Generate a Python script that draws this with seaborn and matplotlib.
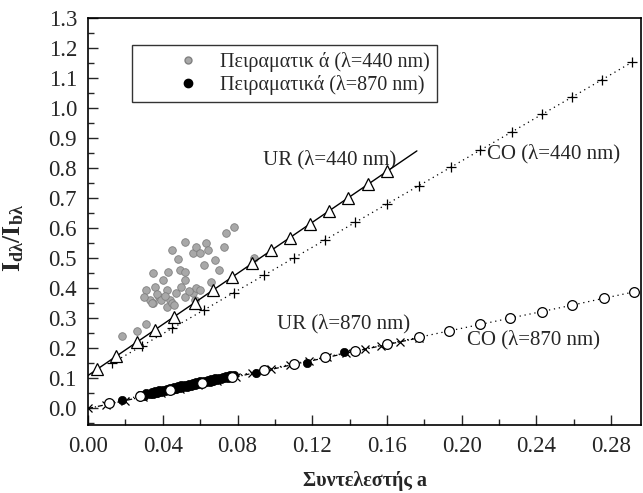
import matplotlib
matplotlib.use("Agg")
import matplotlib.pyplot as plt
import seaborn as sns
from matplotlib.lines import Line2D
from matplotlib.ticker import MultipleLocator, FormatStrFormatter

# ---------------- data ----------------
# Experimental 440 nm (grey)
exp440_x = [0.018, 0.026, 0.031, 0.035, 0.043, 0.045, 0.048, 0.052, 0.056, 0.058,
            0.060, 0.063, 0.064, 0.062, 0.068, 0.070, 0.073, 0.074, 0.078, 0.089,
            0.049, 0.052, 0.052, 0.031, 0.033, 0.035, 0.038, 0.042, 0.044, 0.047,
            0.050, 0.052, 0.056, 0.058, 0.057, 0.040, 0.036, 0.034, 0.042, 0.045,
            0.037, 0.039, 0.046, 0.054, 0.060, 0.066, 0.030, 0.041]
exp440_y = [0.240, 0.257, 0.283, 0.450, 0.453, 0.527, 0.497, 0.553, 0.517, 0.537,
            0.517, 0.550, 0.527, 0.477, 0.493, 0.460, 0.537, 0.583, 0.603, 0.500,
            0.460, 0.453, 0.427, 0.393, 0.360, 0.350, 0.370, 0.393, 0.360, 0.383,
            0.403, 0.370, 0.383, 0.400, 0.360, 0.427, 0.403, 0.350, 0.337, 0.350,
            0.380, 0.360, 0.345, 0.390, 0.395, 0.420, 0.370, 0.375]

# Experimental 870 nm (black)
exp870_x = [0.018, 0.028, 0.030, 0.031, 0.033, 0.034, 0.035, 0.036, 0.037, 0.038,
            0.039, 0.040, 0.041, 0.042, 0.043, 0.044, 0.045, 0.046, 0.047, 0.048,
            0.049, 0.050, 0.051, 0.052, 0.053, 0.054, 0.055, 0.056, 0.057, 0.058,
            0.059, 0.060, 0.061, 0.062, 0.063, 0.064, 0.065, 0.066, 0.067, 0.068,
            0.069, 0.070, 0.071, 0.072, 0.073, 0.074, 0.075, 0.076, 0.077, 0.078,
            0.090, 0.117, 0.137]
exp870_y = [0.027, 0.045, 0.040, 0.050, 0.047, 0.055, 0.049, 0.058, 0.052, 0.061,
            0.055, 0.063, 0.058, 0.066, 0.060, 0.068, 0.063, 0.071, 0.066, 0.074,
            0.068, 0.077, 0.071, 0.079, 0.073, 0.082, 0.076, 0.084, 0.079, 0.087,
            0.081, 0.090, 0.084, 0.092, 0.087, 0.095, 0.089, 0.097, 0.092, 0.100,
            0.094, 0.103, 0.097, 0.105, 0.100, 0.108, 0.102, 0.110, 0.105, 0.112,
            0.117, 0.150, 0.187]

# UR model, 440 nm (triangles, solid)
ur440_x = [0.005, 0.015, 0.026, 0.036, 0.046, 0.057, 0.067, 0.077, 0.088, 0.098,
           0.108, 0.119, 0.129, 0.139, 0.150, 0.160]
ur440_y = [0.131, 0.174, 0.221, 0.263, 0.306, 0.352, 0.395, 0.437, 0.484, 0.527,
           0.569, 0.616, 0.658, 0.701, 0.748, 0.790]
ur440_fit_x = [0.000, 0.176]
ur440_fit_y = [0.110, 0.858]

# CO model, 440 nm (plus, dotted)
co440_x = [0.013, 0.029, 0.045, 0.062, 0.078, 0.094, 0.110, 0.127, 0.143, 0.160,
           0.177, 0.194, 0.210, 0.227, 0.243, 0.259, 0.275, 0.291]
co440_y = [0.152, 0.209, 0.267, 0.328, 0.386, 0.443, 0.501, 0.562, 0.620, 0.681,
           0.742, 0.803, 0.861, 0.922, 0.980, 1.037, 1.095, 1.153]

# UR model, 870 nm (x, dash-dot)
ur870_x = [0.000, 0.0098, 0.0197, 0.0295, 0.039, 0.049, 0.059, 0.069, 0.079, 0.088,
           0.098, 0.108, 0.118, 0.128, 0.138, 0.148, 0.157, 0.167, 0.177]
ur870_y = [0.000, 0.013, 0.026, 0.039, 0.052, 0.065, 0.078, 0.092, 0.105, 0.117,
           0.130, 0.144, 0.157, 0.170, 0.184, 0.197, 0.209, 0.222, 0.235]

# CO model, 870 nm (open circles, dotted)
co870_x = [0.011, 0.028, 0.044, 0.061, 0.077, 0.094, 0.110, 0.127, 0.143, 0.160,
           0.177, 0.193, 0.210, 0.226, 0.243, 0.259, 0.276, 0.292]
co870_y = [0.019, 0.042, 0.063, 0.085, 0.106, 0.128, 0.149, 0.171, 0.192, 0.215,
           0.237, 0.258, 0.280, 0.301, 0.323, 0.344, 0.367, 0.388]

legend_labels = ["Πειραματικ ά (λ=440 nm)", "Πειραματικά (λ=870 nm)"]
x_label = "Συντελεστής a"
y_label = r"$\mathbf{I_{d\lambda}/I_{b\lambda}}$"

# ---------------- style ----------------
sns.set_style("ticks")
plt.rcParams["font.family"] = ["Liberation Serif", "DejaVu Serif"]
plt.rcParams["mathtext.fontset"] = "custom"
plt.rcParams["mathtext.rm"] = "Liberation Serif"
plt.rcParams["mathtext.it"] = "Liberation Serif:italic"
plt.rcParams["mathtext.bf"] = "Liberation Serif:bold"

fig = plt.figure(figsize=(6.43, 4.93), dpi=100)
ax = fig.add_axes([0.137, 0.138, 0.860, 0.825])

# experimental points
sns.scatterplot(x=exp440_x, y=exp440_y, ax=ax, color="#a8a8a8", s=30,
                edgecolor="#808080", linewidth=0.6, zorder=2, legend=False)
sns.scatterplot(x=exp870_x, y=exp870_y, ax=ax, color="black", s=36,
                edgecolor="black", linewidth=0.5, zorder=2, legend=False)

# model curves
sns.lineplot(x=ur440_fit_x, y=ur440_fit_y, ax=ax, color="black", lw=1.0,
             sort=False, estimator=None, zorder=3)
sns.lineplot(x=ur440_x, y=ur440_y, ax=ax, color="black", lw=0, marker="^",
             markersize=8, markerfacecolor="white", markeredgecolor="black",
             markeredgewidth=0.9, sort=False, estimator=None, zorder=4)
sns.lineplot(x=co440_x, y=co440_y, ax=ax, color="black", lw=0.9,
             linestyle=(0, (1, 3)), marker="+", markersize=7,
             markeredgecolor="black", markeredgewidth=0.9,
             sort=False, estimator=None, zorder=3)
sns.lineplot(x=ur870_x, y=ur870_y, ax=ax, color="black", lw=0.9,
             linestyle=(0, (4, 1.5, 1, 1.5)), marker="x", markersize=6,
             markeredgecolor="black", markeredgewidth=0.9,
             sort=False, estimator=None, zorder=3)
sns.lineplot(x=co870_x, y=co870_y, ax=ax, color="black", lw=0.9,
             linestyle=(0, (1, 3)), marker="o", markersize=7,
             markerfacecolor="white", markeredgecolor="black", markeredgewidth=0.9,
             sort=False, estimator=None, zorder=4)

# annotations
fs_ann = 15
ax.text(0.165, 0.83, "UR (λ=440 nm)", ha="right", va="center", fontsize=fs_ann, zorder=1)
ax.text(0.2135, 0.85, "CO (λ=440 nm)", ha="left", va="center", fontsize=fs_ann)
ax.text(0.101, 0.283, "UR (λ=870 nm)", ha="left", va="center", fontsize=fs_ann)
ax.text(0.203, 0.23, "CO (λ=870 nm)", ha="left", va="center", fontsize=fs_ann)

# axes
ax.set_xlim(0.0, 0.296)
ax.set_ylim(-0.055, 1.3)
ax.xaxis.set_major_locator(MultipleLocator(0.04))
ax.xaxis.set_minor_locator(MultipleLocator(0.02))
ax.yaxis.set_major_locator(MultipleLocator(0.1))
ax.yaxis.set_minor_locator(MultipleLocator(0.05))
ax.xaxis.set_major_formatter(FormatStrFormatter("%.2f"))
ax.yaxis.set_major_formatter(FormatStrFormatter("%.1f"))
ax.tick_params(which="major", direction="in", length=7, width=1.0, labelsize=16.5, pad=8)
ax.tick_params(which="minor", direction="in", length=4, width=1.0)
for sp in ax.spines.values():
    sp.set_linewidth(1.2)
    sp.set_color("black")

ax.set_xlabel(x_label, fontsize=14.5, fontweight="bold", labelpad=10)
ax.set_ylabel(y_label, fontsize=18.5)
ax.yaxis.set_label_coords(-0.112, 0.46)

# legend
handles = [
    Line2D([], [], marker="o", linestyle="none", markersize=5,
           markerfacecolor="#a8a8a8", markeredgecolor="#808080"),
    Line2D([], [], marker="o", linestyle="none", markersize=6,
           markerfacecolor="black", markeredgecolor="black"),
]
leg = ax.legend(handles, legend_labels, loc="upper left",
                bbox_to_anchor=(0.079, 0.934), borderaxespad=0, fontsize=14.5,
                frameon=True, fancybox=False, edgecolor="black",
                handlelength=4.9, handletextpad=-0.85, borderpad=0.35,
                labelspacing=0.15)
leg.get_frame().set_linewidth(1.0)

fig.savefig("out.png", dpi=100)
